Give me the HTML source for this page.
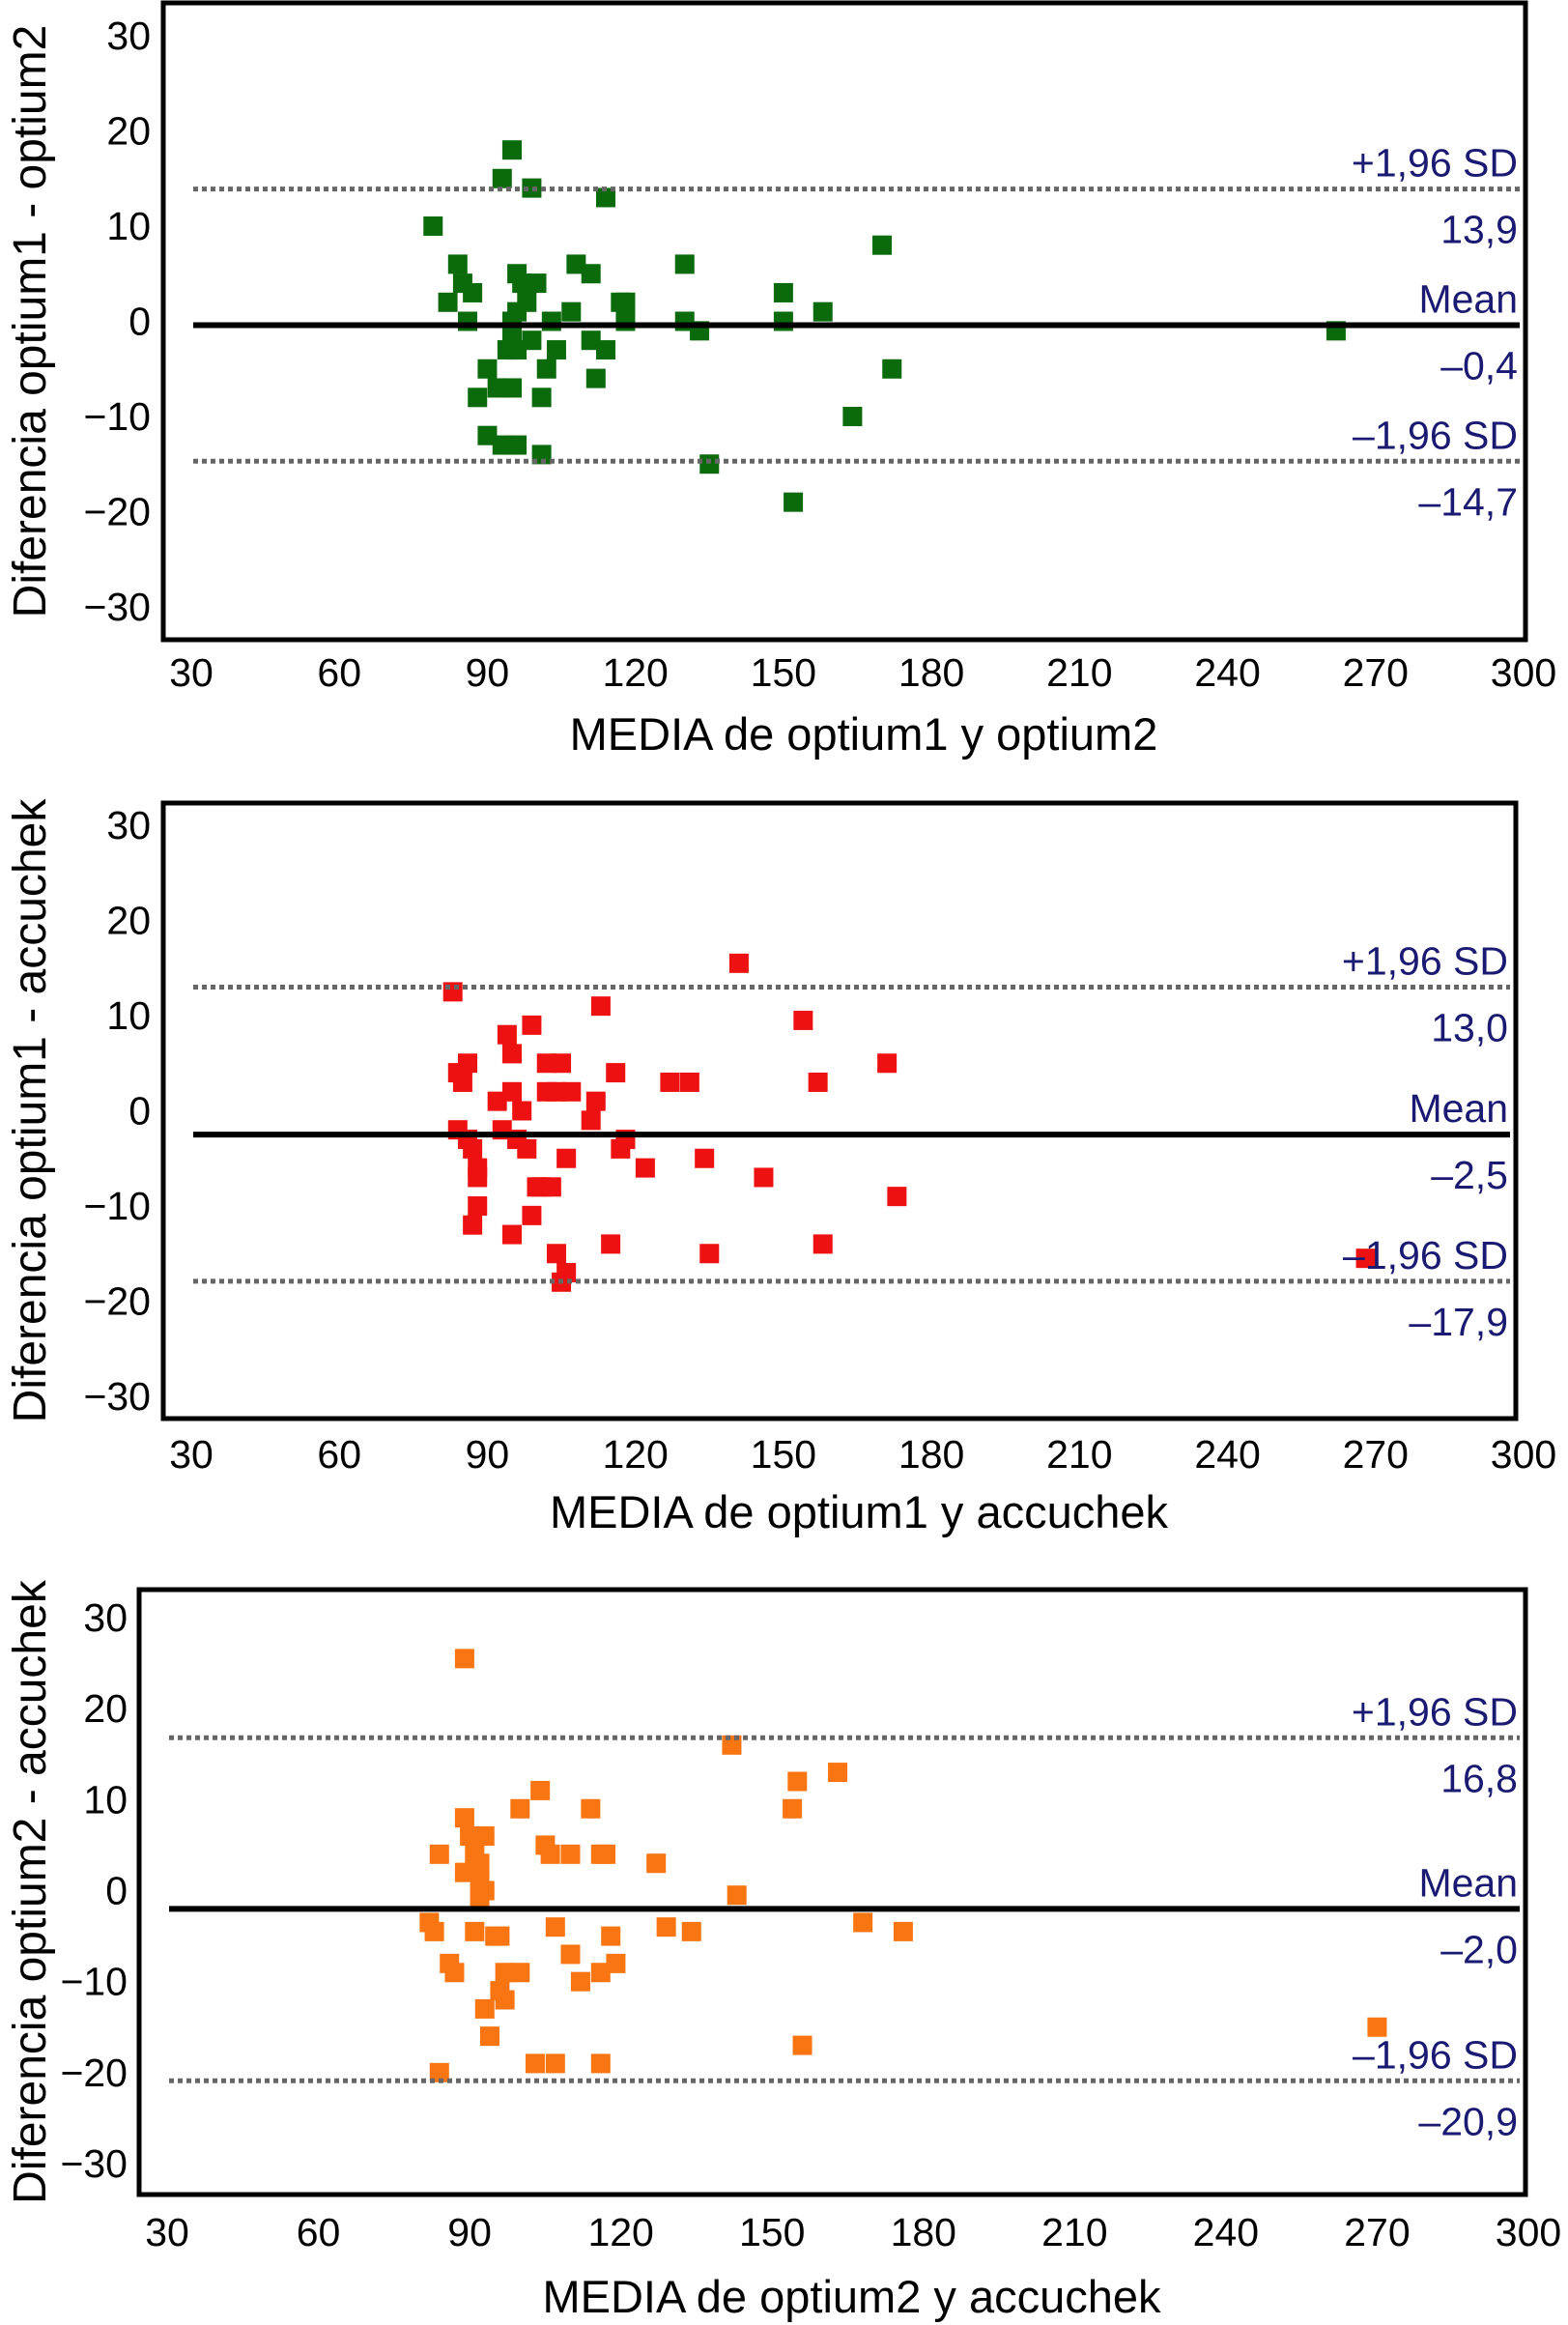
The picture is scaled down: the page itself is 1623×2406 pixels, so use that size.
<!DOCTYPE html>
<html><head><meta charset="utf-8"><style>
html,body{margin:0;padding:0;background:#fff}
svg{display:block}
text{font-family:"Liberation Sans",sans-serif}
</style></head>
<body>
<svg id="chart" width="1623" height="2406" viewBox="0 0 1623 2406" xmlns="http://www.w3.org/2000/svg"></svg>
<script>
const xTicks=[30,60,90,120,150,180,210,240,270,300];
const yTicks=[30,20,10,0,-10,-20,-30];
const p1Points=[[79,10],[84,6],[85,4],[82,2],[87,3],[86,0],[88,-8],[90,-5],[90,-12],[92,-7],[94,-3],[95,-2],[96,-3],[95,-7],[95,0],[96,1],[97,4],[96,5],[98,2],[99,-2],[100,4],[101,-8],[102,-5],[104,-3],[103,0],[107,1],[108,6],[111,5],[111,-2],[112,-6],[114,-3],[117,2],[118,2],[118,0],[93,-13],[96,-13],[101,-14],[130,6],[130,0],[133,-1],[135,-15],[150,3],[150,0],[152,-19],[158,1],[164,-10],[170,8],[172,-5],[262,-1],[93,15],[95,18],[99,14],[114,13]];
const p2Points=[[83,12.5],[84,4],[85,3],[86,5],[84,-2],[86,-3],[87,-4],[88,-6],[88,-7],[87,-12],[88,-10],[92,1],[93,-2],[94,8],[95,6],[95,2],[96,-3],[97,0],[98,-4],[99,9],[100,-8],[99,-11],[101,-8],[102,5],[102,2],[104,2],[105,5],[106,-5],[107,2],[103,-8],[95,-13],[104,-15],[106,-17],[105,-18],[111,-1],[112,1],[113,11],[115,-14],[116,4],[117,-4],[118,-3],[122,-6],[127,3],[131,3],[134,-5],[135,-15],[141,15.5],[146,-7],[154,9.5],[157,3],[158,-14],[171,5],[173,-9],[268,-15.5]];
const p3Points=[[89,25.5],[84,4],[82,-3.5],[83,-4.5],[86,-8],[87,-9],[84,-20],[89,8],[90,6],[89,2],[91,4],[92,3],[92,1],[93,6],[93,0],[92,-1],[91,-4.5],[93,-13],[94,-16],[95,-5],[96,-5],[96,-11],[97,-12],[97,-9],[100,-9],[100,9],[104,11],[105,5],[106,4],[107,-4],[103,-19],[107,-19],[110,4],[110,-7],[112,-10],[114,9],[116,4],[117,4],[116,-9],[118,-5],[119,-8],[116,-19],[127,3],[129,-4],[134,-4.5],[142,16],[143,-0.5],[154,9],[155,12],[156,-17],[163,13],[168,-3.5],[176,-4.5],[270,-15]];
const p1Stats=[13.9,-0.4,-14.7];
const p2Stats=[13.0,-2.5,-17.9];
const p3Stats=[16.8,-2.0,-20.9];
const p1Labels=["13,9","\u20130,4","\u201314,7"];
const p2Labels=["13,0","\u20132,5","\u201317,9"];
const p3Labels=["16,8","\u20132,0","\u201320,9"];

const NS="http://www.w3.org/2000/svg";
const svg=document.getElementById('chart');
function mk(tag,attrs,parent,txt){const e=document.createElementNS(NS,tag);for(const k in attrs)e.setAttribute(k,attrs[k]);if(txt!==undefined)e.textContent=txt;parent.appendChild(e);return e;}

const panels=[
 {id:'p1',pts:p1Points,stats:p1Stats,labels:p1Labels,color:'#0b6a0b',frame:[169,3,1579,662],x0:198,x1:1577,y30:37,ym30:628,ytickX:156,xtickY:710,xlabY:776,ytitleX:30,ytitle:'Diferencia optium1 - optium2',xtitle:'MEDIA de optium1 y optium2'},
 {id:'p2',pts:p2Points,stats:p2Stats,labels:p2Labels,color:'#ee1111',frame:[169,831,1569,1468],x0:198,x1:1577,y30:854,ym30:1445,ytickX:156,xtickY:1519,xlabY:1581,ytitleX:30,ytitle:'Diferencia optium1 - accuchek',xtitle:'MEDIA de optium1 y accuchek'},
 {id:'p3',pts:p3Points,stats:p3Stats,labels:p3Labels,color:'#f97512',frame:[144,1645,1579,2271],x0:173,x1:1582,y30:1674,ym30:2239,ytickX:132,xtickY:2324,xlabY:2393,ytitleX:30,ytitle:'Diferencia optium2 - accuchek',xtitle:'MEDIA de optium2 y accuchek'}
];

panels.forEach(P=>{
 const g=mk('g',{},svg);
 
 
 const X=v=>P.x0+(v-30)/270*(P.x1-P.x0);
 const Y=v=>P.y30+(30-v)/60*(P.ym30-P.y30);
 const [l,t,r,b]=P.frame;
 const fr=mk('rect',{x:l,y:t,width:r-l,height:b-t,fill:'none',stroke:'#000','stroke-width':5},g);
 
 
 xTicks.forEach(v=>{const e=mk('text',{x:X(v),y:P.xtickY,'text-anchor':'middle','font-size':41,fill:'#000'},g,String(v));
  
  });
 yTicks.forEach(v=>{const e=mk('text',{x:P.ytickX,y:Y(v)+14,'text-anchor':'end','font-size':41,fill:'#000'},g,v<0?'\u2212'+(-v):String(v));
  
  });
 const xt=mk('text',{x:(l+r)/2+20,y:P.xlabY,'text-anchor':'middle','font-size':47,fill:'#000'},g,P.xtitle);
 
 
 const cy=(t+b)/2;
 const yt=mk('text',{x:P.ytitleX,y:cy,'text-anchor':'middle','font-size':48,fill:'#000',transform:`rotate(-90 ${P.ytitleX} ${cy})`,dy:'0.35em'},g,P.ytitle);
 
 
 const lx0=P.x0+2, lx1=r-6;
 P.pts.forEach(p=>{const e=mk('rect',{x:X(p[0])-10,y:Y(p[1])-10,width:20,height:20,fill:P.color},g);
  
  });
 const heads=['+1,96 SD','Mean','\u20131,96 SD'];
 P.stats.forEach((s,i)=>{
  const yy=Y(s);
  const ln=mk('line',{x1:lx0,x2:lx1,y1:yy,y2:yy,stroke:i===1?'#000':'#666','stroke-width':i===1?6:5,'stroke-dasharray':i===1?'none':'5,4'},g);
  
  
  const h=mk('text',{x:r-8,y:yy-13,'text-anchor':'end','font-size':41,fill:'#1a1a72'},g,heads[i]);
  
  
  const vtx=mk('text',{x:r-8,y:yy+56,'text-anchor':'end','font-size':41,fill:'#1a1a72'},g,P.labels[i]);
  
  
 });
});
</script>
</body></html>
